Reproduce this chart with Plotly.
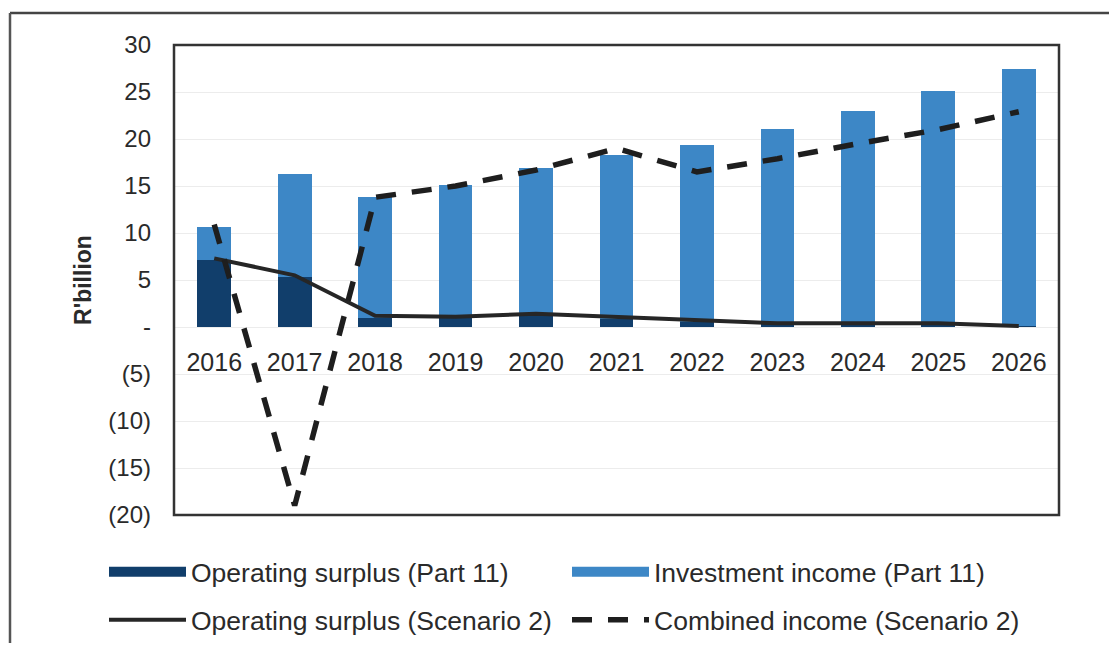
import plotly.graph_objects as go

years = ["2016", "2017", "2018", "2019", "2020", "2021", "2022", "2023", "2024", "2025", "2026"]
op_surplus_part11 = [7.1, 5.3, 1.0, 1.0, 1.2, 0.9, 0.5, 0.3, 0.3, 0.3, 0.1]
invest_income_part11 = [3.5, 11.0, 12.8, 14.1, 15.7, 17.4, 18.9, 20.8, 22.7, 24.8, 27.4]
op_surplus_scen2 = [7.3, 5.5, 1.2, 1.1, 1.4, 1.1, 0.7, 0.4, 0.4, 0.4, 0.1]
combined_scen2 = [10.9, -19.0, 13.8, 15.0, 16.7, 19.0, 16.5, 17.9, 19.5, 21.0, 22.9]

ytick_vals = [30, 25, 20, 15, 10, 5, 0, -5, -10, -15, -20]
ytick_text = ["30", "25", "20", "15", "10", "5", "-", "(5)", "(10)", "(15)", "(20)"]

FONT = "Liberation Sans, Arial, sans-serif"
TXT = "#2a2a2a"
DARK = "#113e6b"
LIGHT = "#3d87c6"

# the page body has an 8px margin on every side; keep the page inside the window
OFF = 8
W, H = 1117 - 2 * OFF, 651 - 2 * OFF
L = 174 - OFF
T = 45 - OFF
R = W - (1059 - OFF)
B = H - (515 - OFF)
PW, PH = W - L - R, H - T - B


def px_x(p):
    return (p - OFF - L) / PW


def px_y(p):
    return (H - B - (p - OFF)) / PH


def cx(p):
    return (p - OFF) / W


def cy(p):
    return 1 - (p - OFF) / H


fig = go.Figure()
fig.add_trace(go.Bar(x=years, y=op_surplus_part11, name="Operating surplus (Part 11)",
                     marker=dict(color=DARK, line=dict(width=0)), width=0.42, showlegend=False))
fig.add_trace(go.Bar(x=years, y=invest_income_part11, name="Investment income (Part 11)",
                     marker=dict(color=LIGHT, line=dict(width=0)), width=0.42, showlegend=False))
fig.add_trace(go.Scatter(x=years, y=op_surplus_scen2, name="Operating surplus (Scenario 2)",
                         mode="lines", line=dict(color="#262626", width=4), legend="legend3"))
fig.add_trace(go.Scatter(x=years, y=combined_scen2, name="Combined income (Scenario 2)",
                         mode="lines", line=dict(color="#1e1e1e", width=5.5, dash="20px,16px"),
                         legend="legend4"))
# legend entries for the bars, drawn as wide rectangles like the reference
fig.add_trace(go.Scatter(x=[None], y=[None], name="Operating surplus (Part 11)", mode="lines",
                         line=dict(color=DARK, width=14), legend="legend"))
fig.add_trace(go.Scatter(x=[None], y=[None], name="Investment income (Part 11)", mode="lines",
                         line=dict(color=LIGHT, width=14), legend="legend2"))

legend_common = dict(orientation="h", xanchor="left", yanchor="middle",
                     xref="container", yref="container", itemwidth=77,
                     font=dict(size=26.5, color=TXT, family=FONT),
                     bgcolor="rgba(0,0,0,0)")

fig.update_layout(
    width=W, height=H,
    barmode="stack",
    paper_bgcolor="white", plot_bgcolor="white",
    margin=dict(l=L, r=R, t=T, b=B, autoexpand=False),
    font=dict(family=FONT, size=24, color=TXT),
    xaxis=dict(type="category", anchor="free", position=0.4, showline=False,
               ticks="", showgrid=False, ticklabelstandoff=18,
               tickfont=dict(size=25, color=TXT), range=[-0.5, 10.5]),
    yaxis=dict(range=[-20, 30], tickvals=ytick_vals, ticktext=ytick_text,
               showgrid=True, gridcolor="#ececec", gridwidth=1, zeroline=False,
               showline=False, ticks="", ticklabelstandoff=22,
               tickfont=dict(size=24, color=TXT),
               title=dict(text="<b>R'billion</b>", font=dict(size=23, color=TXT), standoff=10)),
    legend=dict(x=cx(104), y=cy(572), **legend_common),
    legend2=dict(x=cx(567), y=cy(572), **legend_common),
    legend3=dict(x=cx(104), y=cy(620), **legend_common),
    legend4=dict(x=cx(567), y=cy(620), **legend_common),
    showlegend=True,
    shapes=[
        dict(type="rect", xref="paper", yref="paper", x0=0, x1=1, y0=0, y1=1,
             line=dict(color="#333333", width=2.5), layer="above"),
        dict(type="line", xref="paper", yref="paper", x0=px_x(10), x1=px_x(1117),
             y0=px_y(13), y1=px_y(13), line=dict(color="#444444", width=2.5)),
        dict(type="line", xref="paper", yref="paper", x0=px_x(10), x1=px_x(10),
             y0=px_y(13), y1=px_y(651), line=dict(color="#555555", width=2.5)),
    ],
)

fig.write_html("out.html")
